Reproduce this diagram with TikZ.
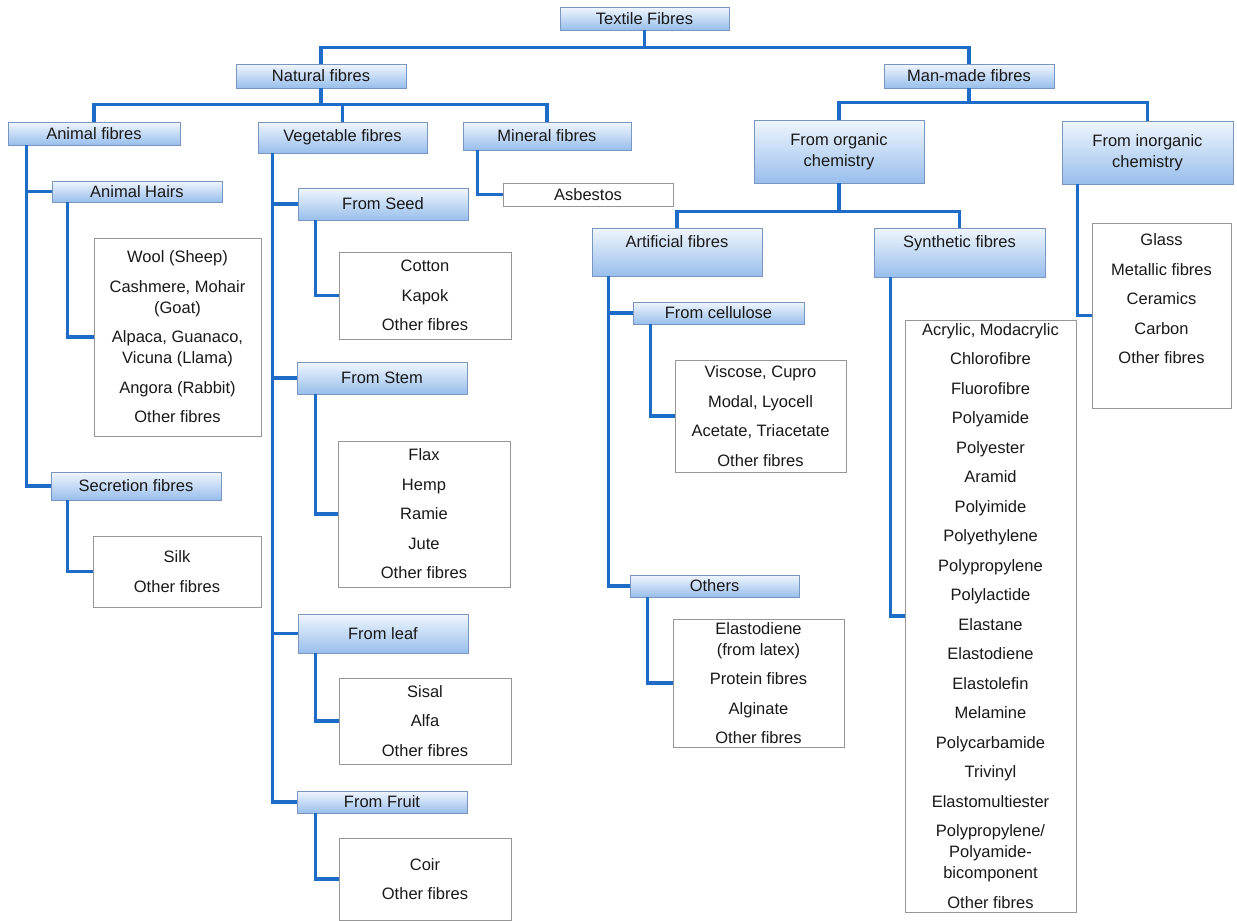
\documentclass[tikz,border=0pt]{standalone}
\usepackage{fontspec}
\setmainfont{Liberation Sans}
\definecolor{linkblue}{RGB}{28,108,200}
\definecolor{boxtop}{RGB}{240,246,253}
\definecolor{boxbot}{RGB}{152,190,236}
\definecolor{boxline}{RGB}{120,150,192}
\definecolor{listline}{RGB}{150,150,150}
\definecolor{txt}{RGB}{25,25,25}
\tikzset{
  hdr/.style={draw=boxline,line width=0.8pt,top color=boxtop,bottom color=boxbot,rectangle,align=center,
    font=\fontsize{16.5}{21}\selectfont,text=txt,minimum width=170pt,inner sep=1pt},
  lst/.style={draw=listline,line width=0.7pt,fill=white,rectangle,align=center,
    font=\fontsize{16.5}{21}\selectfont,text=txt,minimum width=171pt,inner sep=1pt},
  conn/.style={draw=linkblue,line width=3.5pt}
}
\begin{document}
\begin{tikzpicture}[x=1pt,y=-1pt]
    \useasboundingbox (0,0) rectangle (1237,921);
    %% Top levels
    \node[hdr,minimum width=169pt,minimum height=23pt] (textile) at (644.5,18.5) {Textile Fibres};
    \node[hdr,minimum height=24pt] (natural) at (321,76) {Natural fibres};
    \node[hdr,minimum height=24pt] (manmade) at (969,76) {Man-made fibres};
    \node[hdr,minimum width=172pt,minimum height=23pt] (animal) at (94,133.5) {Animal fibres};
    \node[hdr,minimum width=169pt,minimum height=31pt] (vegetable) at (342.5,137.5) {Vegetable fibres};
    \node[hdr,minimum width=168pt,minimum height=28pt] (mineral) at (547,136) {Mineral fibres};
    \node[hdr,minimum height=63pt] (organic) at (839,151.5) {From organic\\chemistry};
    \node[hdr,minimum width=171pt,minimum height=63pt] (inorganic) at (1147.5,152.5) {From inorganic\\chemistry};
    %% Animal fibres
    \node[hdr,minimum height=21pt] (hairs) at (137,191.5) {Animal Hairs};
    \node[lst,minimum width=167pt,minimum height=198pt] (woollist) at (177.5,337) {Wool (Sheep)\\[8.5pt]Cashmere, Mohair\\(Goat)\\[8.5pt]Alpaca, Guanaco,\\Vicuna (Llama)\\[8.5pt]Angora (Rabbit)\\[8.5pt]Other fibres};
    \node[hdr,minimum height=28pt] (secretion) at (136,486) {Secretion fibres};
    \node[lst,minimum width=168pt,minimum height=71pt] (silklist) at (177,571.5) {Silk\\[8.5pt]Other fibres};
    %% Vegetable fibres
    \node[hdr,minimum height=32pt] (seed) at (383,204) {From Seed};
    \node[lst,minimum width=172pt,minimum height=87pt] (cottonlist) at (425,295.5) {Cotton\\[8.5pt]Kapok\\[8.5pt]Other fibres};
    \node[hdr,minimum height=32pt] (stem) at (382,378) {From Stem};
    \node[lst,minimum width=172pt,minimum height=146pt] (flaxlist) at (424,514) {Flax\\[8.5pt]Hemp\\[8.5pt]Ramie\\[8.5pt]Jute\\[8.5pt]Other fibres};
    \node[hdr,minimum height=39pt] (leaf) at (383,633.5) {From leaf};
    \node[lst,minimum width=172pt,minimum height=86pt] (sisallist) at (425,721) {Sisal\\[8.5pt]Alfa\\[8.5pt]Other fibres};
    \node[hdr,minimum height=22pt] (fruit) at (382,802) {From Fruit};
    \node[lst,minimum width=172pt,minimum height=82pt] (coirlist) at (425,879) {Coir\\[8.5pt]Other fibres};
    %% Mineral fibres
    \node[lst,minimum width=170pt,minimum height=23pt] (asbestos) at (588,194.5) {Asbestos};
    %% Organic chemistry
    \node[hdr,minimum height=48pt,text height=19pt,text depth=29pt,inner ysep=0pt] (artificial) at (677,252) {Artificial fibres};
    \node[hdr,minimum width=171pt,minimum height=49pt,text height=19pt,text depth=30pt,inner ysep=0pt] (synthetic) at (959.5,252.5) {Synthetic fibres};
    \node[hdr,minimum width=171pt,minimum height=22pt] (cellulose) at (718.5,313) {From cellulose};
    \node[lst,minimum height=112pt] (viscoselist) at (760.5,416) {Viscose, Cupro\\[8.5pt]Modal, Lyocell\\[8.5pt]Acetate, Triacetate\\[8.5pt]Other fibres};
    \node[hdr,minimum width=169pt,minimum height=22pt] (others) at (714.5,586) {Others};
    \node[lst,minimum height=128pt] (elastolist) at (758.5,683) {Elastodiene\\(from latex)\\[8.5pt]Protein fibres\\[8.5pt]Alginate\\[8.5pt]Other fibres};
    \node[lst,minimum height=592pt] (synthlist) at (990.5,616) {Acrylic, Modacrylic\\[8.5pt]Chlorofibre\\[8.5pt]Fluorofibre\\[8.5pt]Polyamide\\[8.5pt]Polyester\\[8.5pt]Aramid\\[8.5pt]Polyimide\\[8.5pt]Polyethylene\\[8.5pt]Polypropylene\\[8.5pt]Polylactide\\[8.5pt]Elastane\\[8.5pt]Elastodiene\\[8.5pt]Elastolefin\\[8.5pt]Melamine\\[8.5pt]Polycarbamide\\[8.5pt]Trivinyl\\[8.5pt]Elastomultiester\\[8.5pt]Polypropylene/\\Polyamide-\\bicomponent\\[8.5pt]Other fibres};
    %% Inorganic chemistry
    \node[lst,minimum width=139pt,minimum height=185pt] (inorgbox) at (1161.5,315.5) {};
    \node[anchor=north,align=center,inner sep=0pt,font=\fontsize{16.5}{21}\selectfont,text=txt] (inorglist) at ([yshift=-11pt]inorgbox.north) {Glass\\[8.5pt]Metallic fibres\\[8.5pt]Ceramics\\[8.5pt]Carbon\\[8.5pt]Other fibres};
    %% Connectors
    \draw[conn] (textile.south) -- ++(0,17) -| (natural.north);
    \draw[conn] (textile.south) -- ++(0,17) -| (manmade.north);
    \draw[conn] (natural.south) -- ++(0,16) -| (animal.north);
    \draw[conn] (natural.south) -- ++(0,16) -| (vegetable.north);
    \draw[conn] (natural.south) -- ++(0,16) -| (mineral.north);
    \draw[conn] (manmade.south) -- ++(0,14) -| (organic.north);
    \draw[conn] (manmade.south) -- ++(0,14) -| (inorganic.north);
    \draw[conn] (organic.south) -- ++(0,28) -| (artificial.north);
    \draw[conn] (organic.south) -- ++(0,28) -| (synthetic.north);
    \draw[conn] ([xshift=19pt]animal.south west) |- (hairs.west);
    \draw[conn] ([xshift=19pt]animal.south west) |- (secretion.west);
    \draw[conn] ([xshift=16pt]hairs.south west) |- (woollist.west);
    \draw[conn] ([xshift=17pt]secretion.south west) |- (silklist.west);
    \draw[conn] ([xshift=15pt]vegetable.south west) |- (seed.west);
    \draw[conn] ([xshift=15pt]vegetable.south west) |- (stem.west);
    \draw[conn] ([xshift=15pt]vegetable.south west) |- (leaf.west);
    \draw[conn] ([xshift=15pt]vegetable.south west) |- (fruit.west);
    \draw[conn] ([xshift=18pt]seed.south west) |- (cottonlist.west);
    \draw[conn] ([xshift=19pt]stem.south west) |- (flaxlist.west);
    \draw[conn] ([xshift=18pt]leaf.south west) |- (sisallist.west);
    \draw[conn] ([xshift=19pt]fruit.south west) |- (coirlist.west);
    \draw[conn] ([xshift=15pt]mineral.south west) |- (asbestos.west);
    \draw[conn] ([xshift=17pt]artificial.south west) |- (cellulose.west);
    \draw[conn] ([xshift=17pt]artificial.south west) |- (others.west);
    \draw[conn] ([xshift=18pt]cellulose.south west) |- (viscoselist.west);
    \draw[conn] ([xshift=18pt]others.south west) |- (elastolist.west);
    \draw[conn] ([xshift=17pt]synthetic.south west) |- (synthlist.west);
    \draw[conn] ([xshift=16pt]inorganic.south west) |- (inorgbox.west);
\end{tikzpicture}
\end{document}
